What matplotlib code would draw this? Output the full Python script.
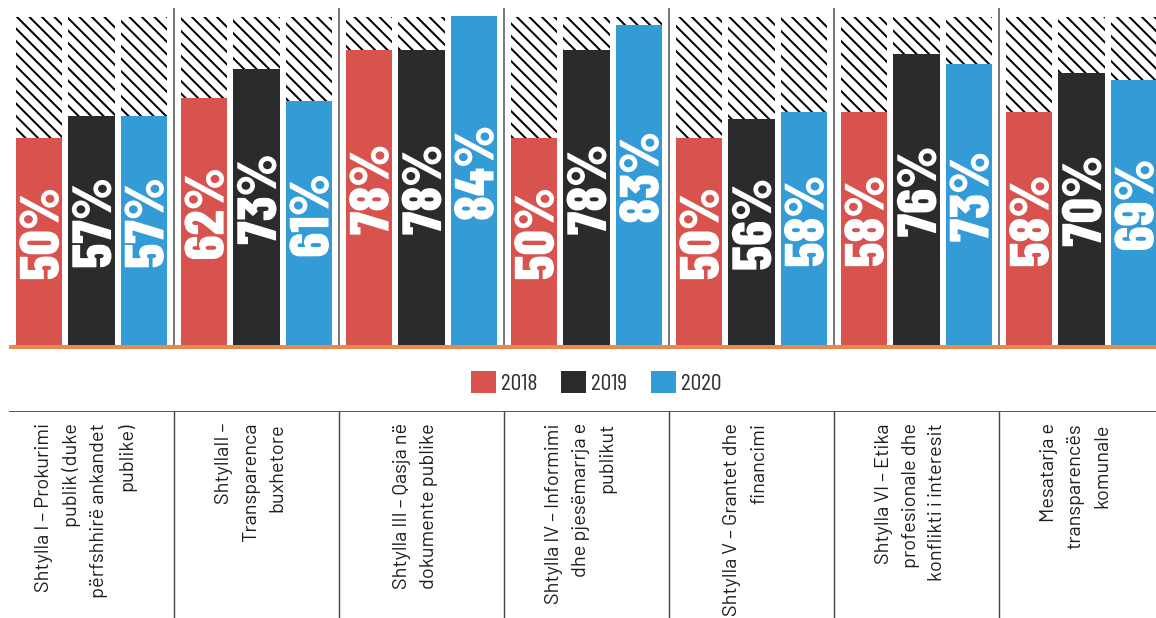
import matplotlib
matplotlib.use("Agg")
import matplotlib.pyplot as plt
import matplotlib.transforms as mtransforms
from matplotlib import font_manager
from matplotlib.font_manager import FontProperties
from matplotlib.patches import Patch, PathPatch
from matplotlib.textpath import TextPath
import numpy as np

# categories (bottom table) and values shown on the bars
categories = [
    "Shtylla I – Prokurimi\npublik (duke\npërfshhirë ankandet\npublike)",
    "ShtyllaII –\nTransparenca\nbuxhetore",
    "Shtylla III – Qasja në\ndokumente publike",
    "Shtylla IV – Informimi\ndhe pjesëmarrja e\npublikut",
    "Shtylla V – Grantet dhe\nfinancimi",
    "Shtylla VI – Etika\nprofesionale dhe\nkonflikti i interesit",
    "Mesatarja e\ntransparencës\nkomunale",
]
years = ["2018", "2019", "2020"]
labels_2018 = [50, 62, 78, 50, 50, 58, 58]
labels_2019 = [57, 73, 78, 78, 56, 76, 70]
labels_2020 = [57, 61, 84, 83, 58, 73, 69]

# bar levels as drawn in the picture (hatched column = 100)
fill_2018 = [63.5, 75.6, 90.1, 63.5, 63.5, 71.2, 71.2]
fill_2019 = [70.1, 84.3, 90.1, 90.1, 69.2, 88.9, 83.2]
fill_2020 = [70.1, 74.6, 100.4, 97.7, 71.2, 85.8, 81.0]

colors = ["#D8524E", "#2A2B2D", "#339CD6"]

DPI = 75
W, H = 1156, 618


def px(v):
    # pixels -> points at this dpi
    return v * 72.0 / DPI


names = {f.name for f in font_manager.fontManager.ttflist}


def pick(*cands):
    for c in cands:
        if c in names:
            return c
    return "DejaVu Sans"


font_big = pick("Barlow Condensed", "Roboto Condensed", "Oswald", "Liberation Sans Narrow")
font_leg = pick("Barlow Condensed", "Roboto Condensed", "Liberation Sans Narrow")
font_cat = pick("Barlow", "Roboto Condensed", "Liberation Sans Narrow")
plt.rcParams["font.family"] = [font_cat, "DejaVu Sans"]
plt.rcParams["hatch.linewidth"] = px(2.0)

fig = plt.figure(figsize=(W / DPI, H / DPI), dpi=DPI)

base_px = 347.3
unit_px = 3.3  # pixels per 1 level unit
ax = fig.add_axes([0, (H - base_px) / H, 1, base_px / H])
xlim = ((0 - 91.5) / 165, (W - 91.5) / 165)
ylim = (0, base_px / unit_px)
ax.set_xlim(xlim)
ax.set_ylim(ylim)
ax.axis("off")

# big rotated value labels, drawn as text paths so the letter shape can be set
fp_big = FontProperties(family=font_big, weight=800)
ref = TextPath((0, 0), "78%", size=100, prop=fp_big).get_extents()
sx = 88.0 / ref.width
sy = 40.0 / ref.height


def value_label(xv, yv, s):
    tp = TextPath((0, 0), s, size=100, prop=fp_big)
    e = tp.get_extents()
    tr = (mtransforms.Affine2D()
          .translate(-(e.x0 + e.width / 2), -(ref.y0 + ref.height / 2))
          .scale(sx, sy).rotate_deg(90)
          + mtransforms.ScaledTranslation(xv, yv, ax.transData))
    ax.add_patch(PathPatch(tp, transform=tr, facecolor="white",
                           edgecolor="none", zorder=4))


x = np.arange(len(categories))
offsets = [-0.318, 0.0, 0.318]
width = 0.279
fills = [fill_2018, fill_2019, fill_2020]
labels = [labels_2018, labels_2019, labels_2020]

for off, fl, lb, c in zip(offsets, fills, labels, colors):
    ax.bar(x + off, [100] * len(x), width, color="white", edgecolor="black",
           linewidth=0, hatch="\\\\", zorder=1)
    ax.bar(x + off, fl, width, color=c, linewidth=0, zorder=2)
    for xi, h, v in zip(x + off, fl, lb):
        value_label(xi, h / 2 + 8 / unit_px, f"{v}%")

ax.hlines(0, -0.5, x[-1] + 1, color="#E8894E", linewidth=px(4), zorder=3,
          clip_on=False)
ax.vlines(x[:-1] + 0.5, 0, (base_px - 8) / unit_px, color="#5a5a5a",
          linewidth=px(1.6), zorder=0)
ax.set_xlim(xlim)
ax.set_ylim(ylim)

# legend
handles = [Patch(facecolor=c, edgecolor="none") for c in colors]
fig.legend(handles, years, loc="center", bbox_to_anchor=(596 / W, 1 - 383 / H),
           ncol=3, frameon=False, handlelength=1.05, handleheight=1.05,
           handletextpad=0.2, columnspacing=1.0, labelcolor="#333333",
           prop={"family": [font_leg, "DejaVu Sans"], "size": px(24)})

# bottom table with category names
top_px = 411
tab = fig.add_axes([0, 0, 1, (H - top_px) / H])
tab.set_xlim(xlim)
tab.set_ylim(0, 1)
tab.axis("off")
tab.hlines(1, -0.5, x[-1] + 1, color="#2c3640", linewidth=px(1.6))
tab.vlines(x[:-1] + 0.5, 0, 1, color="#444444", linewidth=px(1.4))
for xi, name in zip(x, categories):
    tab.text(xi - 0.035, 1 - 12 / (H - top_px), name, rotation=90, ha="center",
             va="top", multialignment="right", fontsize=px(20),
             linespacing=1.62, color="#1e1e1e")

fig.savefig("out.png", dpi=DPI)
